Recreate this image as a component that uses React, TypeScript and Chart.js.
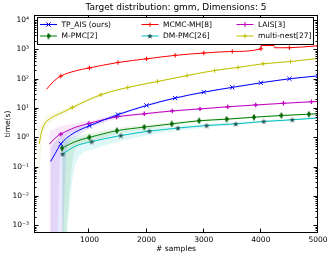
import React, { useEffect, useRef } from "react";
import { Chart, registerables } from "chart.js";

Chart.register(...registerables);

const TITLE = "Target distribution: gmm, Dimensions: 5";
const X_LABEL = "# samples";
const Y_LABEL = "time(s)";
const X_MIN = 30;
const X_MAX = 5000;
const Y_MIN = 5.5e-4;
const Y_MAX = 1.5e4;
const X_TICKS = [1000, 2000, 3000, 4000, 5000];
const X_TICK_LABELS = ["1000", "2000", "3000", "4000", "5000"];
const Y_TICKS = [1e-3, 1e-2, 1e-1, 1, 10, 100, 1000, 10000];
const Y_TICK_LABELS = ["10⁻³", "10⁻²", "10⁻¹", "10⁰", "10¹", "10²", "10³", "10⁴"];

// TP_AIS (ours)
const TP_X = [320, 400, 500, 600, 750, 1000, 1500, 2000, 2500, 3000, 3500, 4000, 4500, 5000];
const TP_Y = [0.15, 0.28, 0.6, 0.95, 1.5, 2.5, 6.0, 12.3, 22, 35, 51, 73, 100, 126];
const TP_LO = [1e-5, 1e-5, 1e-5, 0.35, 1.0, 2.0, 5.3, 11.2, 20.5, 33, 48, 69, 95, 120];
const TP_HI = [0.45, 0.7, 1.2, 1.6, 2.1, 3.0, 6.8, 13.5, 23.5, 37, 54, 77, 105, 132];
const TP_MARKS = [500, 1000, 1500, 2000, 2500, 3000, 3500, 4000, 4500, 5000];

// MCMC-MH[8]
const MH_X = [250, 370, 500, 750, 1000, 1500, 2000, 2500, 3000, 3500, 4000, 4005, 4230, 4240, 4500, 5000];
const MH_Y = [44, 81, 124, 185, 235, 360, 480, 630, 755, 855, 1050, 1370, 1370, 1143, 1150, 1340];
const MH_MARKS = [500, 1000, 1500, 2000, 2500, 3000, 3500, 4000, 4500, 5000];

// LAIS[3]
const LA_X = [300, 400, 500, 750, 990, 1475, 1960, 2450, 2935, 3420, 3910, 4395, 4885, 5000];
const LA_Y = [0.59, 0.95, 1.3, 2.2, 3.0, 5.0, 6.4, 8.0, 9.4, 11.1, 12.8, 14.6, 16.5, 16.9];
const LA_LO = [1e-5, 1e-5, 0.5, 1.5, 2.3, 4.2, 5.8, 7.3, 8.7, 10.3, 12.0, 13.7, 15.5, 15.9];
const LA_HI = [1.6, 2.0, 2.4, 3.0, 3.7, 5.8, 7.1, 8.7, 10.1, 11.9, 13.6, 15.5, 17.5, 17.9];
const LA_MARKS = [500, 990, 1475, 1960, 2450, 2935, 3420, 3910, 4395, 4885];

// M-PMC[2]
const MP_X = [520, 750, 1000, 1480, 1960, 2440, 2920, 3400, 3880, 4360, 4840, 5000];
const MP_Y = [0.43, 0.72, 1.0, 1.7, 2.25, 2.9, 3.7, 4.2, 4.9, 5.6, 6.2, 6.4];
const MP_LO = [1e-5, 0.4, 0.7, 1.35, 1.9, 2.55, 3.3, 3.85, 4.55, 5.2, 5.8, 6.0];
const MP_HI = [0.9, 1.1, 1.35, 2.1, 2.65, 3.3, 4.1, 4.6, 5.3, 6.0, 6.6, 6.8];
const MP_MARKS = [520, 1000, 1480, 1960, 2440, 2920, 3400, 3880, 4360, 4840];

// DM-PMC[26]
const DM_X = [530, 750, 1040, 1550, 2050, 2550, 3050, 3560, 4050, 4550, 5000];
const DM_Y = [0.27, 0.5, 0.72, 1.16, 1.64, 2.08, 2.55, 2.9, 3.5, 4.0, 4.6];
const DM_LO = [1e-5, 0.11, 0.38, 0.75, 1.2, 1.7, 2.2, 2.6, 3.2, 3.7, 4.3];
const DM_HI = [0.7, 0.95, 1.15, 1.6, 2.1, 2.5, 2.95, 3.25, 3.85, 4.35, 4.95];
const DM_MARKS = [530, 1040, 1550, 2050, 2550, 3050, 3560, 4050, 4550];

// multi-nest[27]
const MN_X = [120, 160, 220, 300, 400, 550, 700, 1200, 1670, 2190, 2710, 3190, 3600, 4040, 4520, 5000];
const MN_Y = [0.6, 1.5, 3.0, 4.2, 5.5, 7.5, 10.5, 28.5, 50.6, 81, 129, 192, 244, 325, 389, 500];
const MN_LO = [0.016, 0.6, 1.8, 3.0, 4.2, 6.0, 8.8, 25.5, 46, 75, 120, 180, 230, 308, 370, 475];
const MN_HI = [2.3, 2.8, 4.5, 5.8, 7.2, 9.2, 12.5, 32, 55, 87, 138, 205, 258, 342, 408, 525];
const MN_MARKS = [700, 1200, 1670, 2190, 2710, 3190, 3600, 4040, 4520];

const FONT = "'DejaVu Sans', sans-serif";

function makeDiamond(color: string) {
  const c = document.createElement("canvas");
  c.width = 4;
  c.height = 7;
  const g = c.getContext("2d")!;
  g.fillStyle = color;
  g.beginPath();
  g.moveTo(2, 0);
  g.lineTo(4, 3.5);
  g.lineTo(2, 7);
  g.lineTo(0, 3.5);
  g.closePath();
  g.fill();
  return c;
}

function makeStar(color: string, size: number) {
  const c = document.createElement("canvas");
  c.width = size;
  c.height = size;
  const g = c.getContext("2d")!;
  const cx = size / 2;
  const cy = size / 2 + 0.3;
  const ro = size / 2;
  const ri = ro * 0.42;
  g.fillStyle = color;
  g.beginPath();
  for (let i = 0; i < 10; i++) {
    const r = i % 2 === 0 ? ro : ri;
    const a = -Math.PI / 2 + (i * Math.PI) / 5;
    const px = cx + r * Math.cos(a);
    const py = cy + r * Math.sin(a);
    if (i === 0) g.moveTo(px, py);
    else g.lineTo(px, py);
  }
  g.closePath();
  g.fill();
  return c;
}

function pts(xs: number[], ys: number[]) {
  return xs.map((x, i) => ({ x, y: ys[i] }));
}

function drawMarker(ctx: CanvasRenderingContext2D, style: any, x: number, y: number, r: number, color: string, lw: number) {
  if (typeof style === "string") {
    ctx.save();
    ctx.strokeStyle = color;
    ctx.lineWidth = lw;
    ctx.beginPath();
    if (style === "cross") {
      ctx.moveTo(x - r, y);
      ctx.lineTo(x + r, y);
      ctx.moveTo(x, y - r);
      ctx.lineTo(x, y + r);
    } else {
      const d = r * Math.SQRT1_2;
      ctx.moveTo(x - d, y - d);
      ctx.lineTo(x + d, y + d);
      ctx.moveTo(x - d, y + d);
      ctx.lineTo(x + d, y - d);
    }
    ctx.stroke();
    ctx.restore();
  } else {
    ctx.drawImage(style, x - style.width / 2, y - style.height / 2);
  }
}

export default function App() {
  const ref = useRef<HTMLCanvasElement>(null);

  useEffect(() => {
    const canvas = ref.current!;
    const diamond = makeDiamond("#006400");
    const star = makeStar("#1f5252", 6);

    const series = [
      { label: "TP_AIS (ours)", xs: TP_X, ys: TP_Y, lo: TP_LO, hi: TP_HI, marks: TP_MARKS, line: "#0000ff", band: "rgba(0,0,255,0.09)", marker: "crossRot", mcolor: "#0000ff", r: 3, mw: 1 },
      { label: "M-PMC[2]", xs: MP_X, ys: MP_Y, lo: MP_LO, hi: MP_HI, marks: MP_MARKS, line: "#008000", band: "rgba(0,128,0,0.09)", marker: diamond, mcolor: "#006400", r: 2.5, mw: 1 },
      { label: "MCMC-MH[8]", xs: MH_X, ys: MH_Y, lo: null, hi: null, marks: MH_MARKS, line: "#ff0000", band: "", marker: "cross", mcolor: "#ff0000", r: 2.2, mw: 1 },
      { label: "DM-PMC[26]", xs: DM_X, ys: DM_Y, lo: DM_LO, hi: DM_HI, marks: DM_MARKS, line: "#00bfbf", band: "rgba(0,191,191,0.12)", marker: star, mcolor: "#1f5252", r: 2.5, mw: 1 },
      { label: "LAIS[3]", xs: LA_X, ys: LA_Y, lo: LA_LO, hi: LA_HI, marks: LA_MARKS, line: "#bf00bf", band: "rgba(191,0,191,0.09)", marker: "cross", mcolor: "#bf00bf", r: 2.2, mw: 1.2 },
      { label: "multi-nest[27]", xs: MN_X, ys: MN_Y, lo: MN_LO, hi: MN_HI, marks: MN_MARKS, line: "#bfbf00", band: "rgba(191,191,0,0.1)", marker: "cross", mcolor: "#bfbf00", r: 2.2, mw: 1 },
    ];

    const datasets: any[] = [];
    series.forEach((s) => {
      if (s.lo && s.hi) {
        datasets.push({
          label: s.label + " upper",
          data: pts(s.xs, s.hi),
          borderWidth: 0,
          borderColor: "rgba(0,0,0,0)",
          backgroundColor: s.band,
          pointRadius: 0,
          fill: "+1",
          order: 10,
          cubicInterpolationMode: "monotone",
        });
        datasets.push({
          label: s.label + " lower",
          data: pts(s.xs, s.lo),
          borderWidth: 0,
          borderColor: "rgba(0,0,0,0)",
          backgroundColor: "rgba(0,0,0,0)",
          pointRadius: 0,
          fill: false,
          order: 10,
          cubicInterpolationMode: "monotone",
        });
      }
    });
    series.forEach((s) => {
      datasets.push({
        label: s.label,
        data: pts(s.xs, s.ys),
        borderColor: s.line,
        borderWidth: 1,
        backgroundColor: s.mcolor,
        fill: false,
        order: 0,
        cubicInterpolationMode: "monotone",
        pointStyle: s.marker,
        pointRadius: (c: any) => (c.raw && s.marks.includes(c.raw.x) ? s.r : 0),
        pointBorderColor: s.mcolor,
        pointBackgroundColor: s.mcolor,
        pointBorderWidth: s.mw,
      });
    });

    const framePlugin = {
      id: "mplFrame",
      afterDatasetsDraw(chart: any) {
        const { ctx, chartArea: a, scales } = chart;
        const xs = scales.x;
        const ys = scales.y;
        ctx.save();
        ctx.strokeStyle = "#000";
        ctx.lineWidth = 1;
        ctx.beginPath();
        const L = Math.floor(a.left) + 0.5;
        const R = Math.floor(a.right) - 0.5;
        const T = Math.floor(a.top) + 0.5;
        const B = Math.floor(a.bottom) - 0.5;
        xs.ticks.forEach((t: any) => {
          const px = Math.round(xs.getPixelForValue(t.value)) - 0.5;
          ctx.moveTo(px, B);
          ctx.lineTo(px, B - 4);
          ctx.moveTo(px, T);
          ctx.lineTo(px, T + 4);
        });
        ys.ticks.forEach((t: any) => {
          const py = Math.round(ys.getPixelForValue(t.value)) + 0.5;
          ctx.moveTo(L, py);
          ctx.lineTo(L + 4, py);
          ctx.moveTo(R, py);
          ctx.lineTo(R - 4, py);
          for (let k = 2; k <= 9; k++) {
            const v = t.value * k;
            if (v > Y_MAX) break;
            const pm = Math.round(ys.getPixelForValue(v)) + 0.5;
            ctx.moveTo(L, pm);
            ctx.lineTo(L + 2, pm);
            ctx.moveTo(R, pm);
            ctx.lineTo(R - 2, pm);
          }
        });
        for (let k = 6; k <= 9; k++) {
          const v = (Y_TICKS[0] / 10) * k;
          if (v < Y_MIN) continue;
          const pm = Math.round(ys.getPixelForValue(v)) + 0.5;
          ctx.moveTo(L, pm);
          ctx.lineTo(L + 2, pm);
          ctx.moveTo(R, pm);
          ctx.lineTo(R - 2, pm);
        }
        ctx.stroke();
        ctx.strokeRect(L, T, R - L, B - T);
        ctx.restore();
      },
      afterDraw(chart: any) {
        const { ctx, chartArea: a } = chart;
        ctx.save();
        ctx.fillStyle = "#000";
        ctx.font = `9px ${FONT}`;
        ctx.textAlign = "center";
        ctx.textBaseline = "middle";
        ctx.fillText(TITLE, (a.left + a.right) / 2, 7.5);
        const bl = 37, bt = 17, br = 314, bb = 45;
        ctx.fillStyle = "#fff";
        ctx.fillRect(bl, bt, br - bl, bb - bt);
        ctx.strokeStyle = "#000";
        ctx.lineWidth = 1;
        ctx.strokeRect(bl + 0.5, bt + 0.5, br - bl - 1, bb - bt - 1);
        const cols = [40, 141.5, 236.5];
        const rows = [24.5, 36];
        ctx.font = `7.5px ${FONT}`;
        ctx.textAlign = "left";
        series.forEach((s, i) => {
          const cx = cols[Math.floor(i / 2)];
          const cy = rows[i % 2];
          ctx.strokeStyle = s.line;
          ctx.lineWidth = 1;
          ctx.beginPath();
          ctx.moveTo(cx, cy);
          ctx.lineTo(cx + 17, cy);
          ctx.stroke();
          drawMarker(ctx, s.marker, cx + 8.5, cy, s.r, s.mcolor, s.mw);
          ctx.fillStyle = "#000";
          ctx.fillText(s.label, cx + 21.5, cy + 0.5);
        });
        ctx.restore();
      },
    };

    const chart = new Chart(canvas, {
      type: "line",
      data: { datasets },
      options: {
        animation: false,
        responsive: false,
        devicePixelRatio: 1,
        events: [],
        layout: { padding: { left: 0, right: 14, top: 15, bottom: 0 } },
        plugins: {
          legend: { display: false },
          tooltip: { enabled: false },
          title: { display: false },
        },
        scales: {
          x: {
            type: "linear",
            min: X_MIN,
            max: X_MAX,
            grid: { display: false, drawTicks: false },
            border: { display: false },
            afterBuildTicks: (s: any) => {
              s.ticks = X_TICKS.map((v) => ({ value: v }));
            },
            afterFit: (s: any) => {
              s.height = 26;
            },
            ticks: {
              autoSkip: false,
              maxRotation: 0,
              padding: 3,
              color: "#000",
              font: { family: FONT, size: 7.5 },
              callback: (_v: any, i: number) => X_TICK_LABELS[i],
            },
            title: {
              display: true,
              text: X_LABEL,
              color: "#000",
              font: { family: FONT, size: 7.5 },
              padding: { top: 0, bottom: 5 },
            },
          },
          y: {
            type: "logarithmic",
            min: Y_MIN,
            max: Y_MAX,
            grid: { display: false, drawTicks: false },
            border: { display: false },
            afterBuildTicks: (s: any) => {
              s.ticks = Y_TICKS.map((v) => ({ value: v }));
            },
            afterFit: (s: any) => {
              s.width = 34;
            },
            ticks: {
              autoSkip: false,
              padding: 5,
              color: "#000",
              font: { family: FONT, size: 7.5 },
              callback: (_v: any, i: number) => Y_TICK_LABELS[i],
            },
            title: {
              display: true,
              text: Y_LABEL,
              color: "#000",
              font: { family: FONT, size: 7.5 },
              padding: { top: 3.8, bottom: 0 },
            },
          },
        },
      } as any,
      plugins: [framePlugin],
    });

    return () => chart.destroy();
  }, []);

  return (
    <div style={{ position: "fixed", left: 0, top: 0, width: 332, height: 259, background: "#fff" }}>
      <canvas ref={ref} width={332} height={259} style={{ width: 332, height: 259, display: "block" }} />
    </div>
  );
}
